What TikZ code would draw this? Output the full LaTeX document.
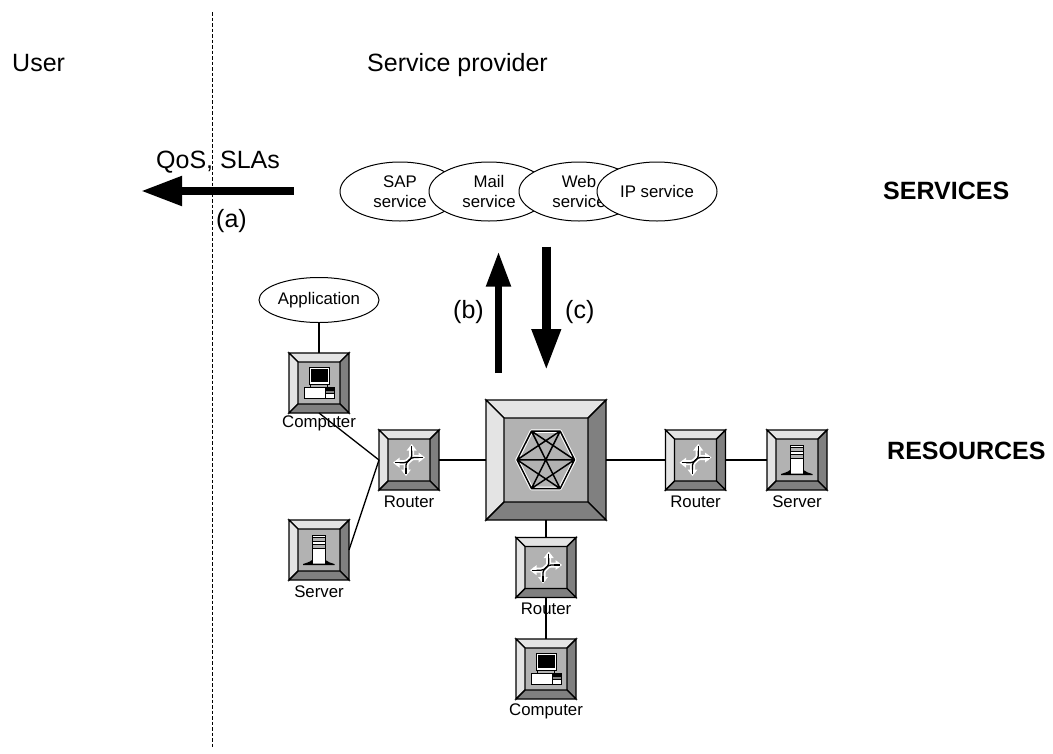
\documentclass[tikz,border=0pt]{standalone}
\usepackage{fontspec}
\setmainfont{Liberation Sans}
\usetikzlibrary{arrows.meta,shapes.geometric}
\definecolor{bevlight}{HTML}{E4E4E4}
\definecolor{bevdark}{HTML}{808080}
\definecolor{bevmid}{HTML}{B2B2B2}
\tikzset{
  x=1pt,y=-1pt,
  box/.style={inner sep=0pt,outer sep=0pt,minimum size=#1},
  link/.style={line width=1.3pt,black},
  svc/.style={ellipse,draw=black,fill=white,line width=1pt,minimum width=120pt,minimum height=59pt,inner sep=0pt,align=center,font=\fontsize{16.8}{20}\selectfont},
  lab/.style={inner sep=0pt,font=\fontsize{16.8}{19}\selectfont},
  big/.style={inner sep=0pt,anchor=base west,font=\fontsize{25}{28}\selectfont},
  bigb/.style={inner sep=0pt,anchor=base west,font=\fontsize{25}{26}\bfseries\selectfont},
  fata/.style={line width=8pt,-{Triangle[length=41pt,width=28pt]}},
  fatb/.style={line width=6.8pt,-{Triangle[length=35pt,width=23.5pt]}},
  fatc/.style={line width=8.6pt,-{Triangle[length=41pt,width=27.5pt]}},
  icn/.style={line width=1pt,draw=black},
}
% bevelled box: name, x, y, half size, bevel
\newcommand{\bevelbox}[5]{%
  \node[box=#4*2] (#1) at (#2,#3) {};
  \begin{scope}[shift={(#2,#3)},line width=1.4pt,draw=black,line join=miter]
    \fill[bevmid] (-#4,-#4) rectangle (#4,#4);
    \filldraw[fill=bevlight] (-#4,-#4) -- (#4,-#4) -- (#4-#5,-#4+#5) -- (-#4+#5,-#4+#5) -- cycle;
    \filldraw[fill=bevlight] (-#4,-#4) -- (-#4,#4) -- (-#4+#5,#4-#5) -- (-#4+#5,-#4+#5) -- cycle;
    \filldraw[fill=bevdark] (#4,-#4) -- (#4,#4) -- (#4-#5,#4-#5) -- (#4-#5,-#4+#5) -- cycle;
    \filldraw[fill=bevdark] (-#4,#4) -- (#4,#4) -- (#4-#5,#4-#5) -- (-#4+#5,#4-#5) -- cycle;
  \end{scope}}
\newcommand{\iconcomputer}[2]{%
  \begin{scope}[shift={(#1,#2)}]
    \filldraw[icn,fill=white] (-9.7,-16) rectangle (10.7,1);
    \fill[black] (-8,-14) rectangle (9,-1);
    \filldraw[icn,fill=bevmid] (-8.5,1) rectangle (8.5,4);
    \filldraw[icn,fill=white] (-15,4) rectangle (15,15);
    \fill[black] (6,4) rectangle (15,7.5);
    \fill[bevdark] (6,7.5) rectangle (15,10.5);
    \draw[icn] (6,4) -- (6,15) (6,10.5) -- (15,10.5);
  \end{scope}}
\newcommand{\iconserver}[2]{%
  \begin{scope}[shift={(#1,#2)}]
    \filldraw[icn,fill=white] (-7,-15) rectangle (6.5,14);
    \fill[bevmid] (-6.5,-13) rectangle (6,-9);
    \fill[bevmid] (-6.5,-6) rectangle (6,-1.5);
    \draw[icn] (-7,-13) -- (6.5,-13) (-7,-9) -- (6.5,-9) (-7,-6) -- (6.5,-6) (-7,-1.5) -- (6.5,-1.5);
    \fill[black] (-7,10) .. controls (-9,12) and (-13,13) .. (-16,14) -- (-16,15) -- (15.5,15) -- (15.5,14) .. controls (12,13) and (8.5,12) .. (6.5,10) -- (6.5,13.7) -- (-7,13.7) -- cycle;
  \end{scope}}
\newcommand{\iconrouter}[2]{%
  \begin{scope}[shift={(#1,#2)}]
    \foreach \c/\w in {white/5,black/1.3}{
      \draw[draw=\c,line width=\w pt] (-13,2.7) -- (-5,2.7) .. controls (0,2.7) and (0,-2.5) .. (5,-2.5) -- (13,-2.5);
      \draw[draw=\c,line width=\w pt] (2.7,-13) -- (2.7,-4) .. controls (2.7,0) and (-3,1) .. (-3,5) -- (-3,13);
    }
    \fill[white] (-16,2.7) -- (-9.5,-2.3) -- (-9.5,7.7) -- cycle;
    \fill[white] (16,-2.5) -- (9.5,-7.5) -- (9.5,2.5) -- cycle;
    \fill[white] (2.7,-16) -- (-2.3,-9.5) -- (7.7,-9.5) -- cycle;
    \fill[white] (-3,16) -- (-8,9.5) -- (2,9.5) -- cycle;
    \draw[line width=1.3pt] (-14,2.7) -- (-8,2.7) (14,-2.5) -- (8,-2.5) (2.7,-14) -- (2.7,-8) (-3,14) -- (-3,8);
  \end{scope}}
\begin{document}
\begin{tikzpicture}
\useasboundingbox (0,0) rectangle (1053,753);
\fill[white] (0,0) rectangle (1053,753);

\node[big] at (12,71) {User};
\node[big] at (367,71) {Service provider};
\node[big] at (156,168) {QoS, SLAs};
\node[big] at (216,227) {(a)};
\node[big] at (453,318) {(b)};
\node[big] at (565,318) {(c)};
\node[bigb] at (883,199) {SERVICES};
\node[bigb] at (887,459) {RESOURCES};

% boundary
\coordinate (bt) at (212,12);
\coordinate (bb) at (212,748);
\draw[line width=0.9pt,dash pattern=on 3.5pt off 2pt] (bt) -- (bb);

% services
\node[svc] (sap) at (400,191.5) {SAP\\service};
\node[svc] (mail) at (489,191.5) {Mail\\service};
\node[svc] (web) at (579,191.5) {Web\\service};
\node[svc] (ip) at (657,191.5) {IP service};
\node[svc,minimum height=45pt] (app) at (319,300) {Application};

% arrows
\coordinate (qa) at (293.5,191);
\coordinate (qb) at (141,191);
\draw[fata] (qa) -- (qb);
\coordinate (ba) at (498.5,373);
\coordinate (bb2) at (498.5,251.7);
\draw[fatb] (ba) -- (bb2);
\coordinate (ca) at (546.3,246.7);
\coordinate (cb) at (546.3,370);
\draw[fatc] (ca) -- (cb);

% boxes
\bevelbox{c1}{319}{383}{30}{9}
\bevelbox{r1}{409}{460}{30}{9}
\bevelbox{s1}{319}{550}{30}{9}
\bevelbox{hub}{546}{460}{60}{18}
\bevelbox{r2}{695.5}{460}{30}{9}
\bevelbox{s2}{797}{460}{30}{9}
\bevelbox{r3}{546}{567.5}{30}{9}
\bevelbox{c2}{546}{669}{30}{9}

\iconcomputer{319}{383}
\iconcomputer{546}{669}
\iconserver{319}{550}
\iconserver{797}{460}
\iconrouter{409}{460}
\iconrouter{695.5}{460}
\iconrouter{546}{567.5}

% hub icon
\begin{scope}[shift={(545.8,459.8)}]
  \coordinate (hR) at (28.7,0);
  \coordinate (hL) at (-28.7,0);
  \coordinate (hTL) at (-14.3,-28.7);
  \coordinate (hTR) at (14.3,-28.7);
  \coordinate (hBL) at (-14.3,28.7);
  \coordinate (hBR) at (14.3,28.7);
  \draw[white,line width=3.6pt,line join=round] (hR)--(hTR)--(hTL)--(hL)--(hBL)--(hBR)--cycle;
  \draw[black,line width=1.5pt,line join=round] (hR)--(hTR)--(hTL)--(hL)--(hBL)--(hBR)--cycle
    (hL)--(hR) (hTL)--(hBR) (hTR)--(hBL)
    (hL)--(hTR) (hR)--(hTL) (hL)--(hBR) (hR)--(hBL);
\end{scope}

% labels
\node[lab] at (319,423) {Computer};
\node[lab] at (409,502) {Router};
\node[lab] at (319,592) {Server};
\node[lab] at (695.5,502) {Router};
\node[lab] at (797,502) {Server};
\node[lab] at (546,609) {Router};
\node[lab] at (546,711) {Computer};

% links
\draw[link] (app) -- (c1.north);
\draw[link] (c1.south) -- (r1.west);
\draw[link] (s1.east) -- (r1.west);
\draw[link] (r1.east) -- (hub.west);
\draw[link] (hub.east) -- (r2.west);
\draw[link] (r2.east) -- (s2.west);
\draw[link] (hub.south) -- (r3.north);
\draw[link] (r3.south) -- (c2.north);
\end{tikzpicture}
\end{document}
